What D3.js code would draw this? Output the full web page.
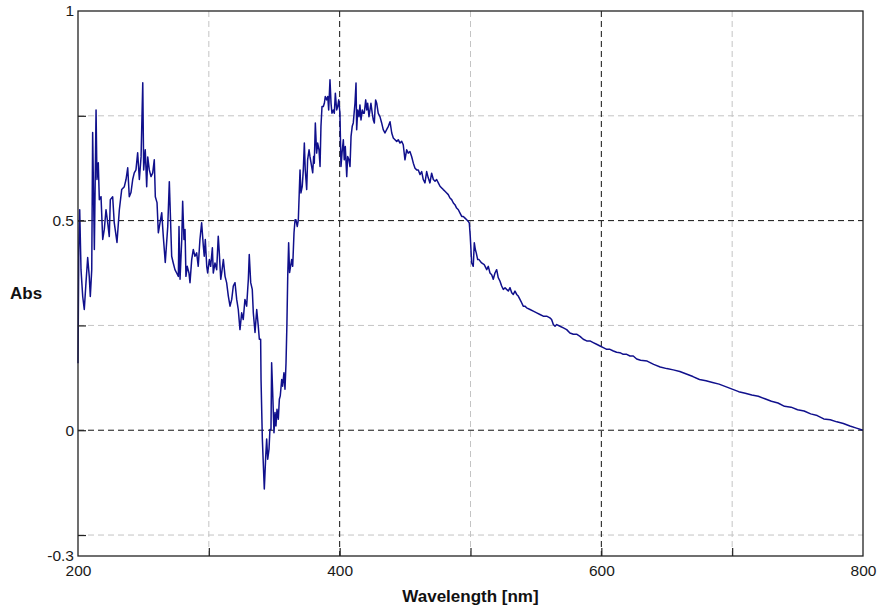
<!DOCTYPE html>
<html>
<head>
<meta charset="utf-8">
<script src="https://cdn.jsdelivr.net/npm/d3@7"></script>
<style>
  html, body { margin: 0; padding: 0; background: #fff; }
  svg { display: block; font-family: "Liberation Sans", Arial, sans-serif; }
</style>
</head>
<body>
<svg id="chart" width="877" height="608"></svg>
<script>
// Absorbance spectrum, wavelength in nm
const wavelength = [
  200.0,200.6,201.3,202.3,203.6,204.8,206.1,207.4,208.6,209.4,210.5,211.2,212.5,213.8,214.5,215.5,216.3,217.6,218.9,220.1,
  221.4,222.7,223.9,224.7,226.5,227.7,229.8,231.6,233.4,235.4,236.7,238.0,239.2,240.5,241.8,243.0,244.3,245.6,246.9,248.2,
  249.5,250.2,251.4,252.5,253.3,254.5,255.8,257.1,258.3,259.1,260.4,261.4,262.7,264.0,265.2,266.7,268.6,269.8,271.6,272.8,
  274.1,275.4,276.7,277.2,278.0,279.3,280.0,281.0,281.8,282.5,283.5,284.8,285.6,286.9,288.1,289.4,290.7,291.9,293.2,294.5,
  295.8,296.5,297.3,298.4,299.1,300.4,301.4,302.7,303.4,304.7,306.0,307.2,308.0,309.1,309.8,311.1,312.4,313.6,314.9,316.2,
  317.5,318.7,320.0,321.3,322.5,323.8,325.1,326.3,327.6,328.9,330.2,330.9,332.0,333.2,334.0,335.3,336.6,337.8,338.6,339.6,
  339.9,340.9,341.7,342.4,343.5,344.2,345.0,346.0,346.7,347.5,348.0,348.8,349.8,350.6,351.3,352.1,353.1,353.9,354.6,355.7,
  356.4,357.4,358.2,359.0,359.7,360.3,361.0,361.7,363.3,364.1,365.1,365.9,366.6,367.6,368.4,369.1,369.7,370.4,371.4,372.2,
  373.0,373.7,374.8,375.5,376.6,377.3,378.6,379.4,380.1,380.6,381.4,382.4,383.2,384.2,385.0,385.7,386.5,387.5,388.3,389.0,
  390.1,390.9,391.6,392.6,393.4,394.1,395.1,395.9,396.7,397.7,398.5,399.3,400.2,401.0,401.8,402.8,403.5,404.3,405.4,406.1,
  407.1,407.9,408.7,409.6,410.4,411.7,412.5,413.0,413.8,414.8,415.5,416.3,417.3,418.1,418.8,419.9,420.7,421.4,422.4,423.2,
  423.9,424.9,425.7,426.5,427.0,427.5,428.3,429.5,430.8,432.1,433.3,434.6,435.9,437.2,438.5,439.8,441.0,442.3,443.6,444.8,
  446.1,447.4,448.6,449.9,451.2,452.4,453.7,455.0,456.3,457.6,458.9,460.1,461.4,462.7,463.9,465.2,466.5,467.7,469.0,470.3,
  471.6,472.9,474.1,475.4,476.7,478.0,479.2,480.5,481.8,483.0,484.3,485.6,486.9,488.1,489.4,490.7,492.0,493.3,494.5,495.8,
  497.1,498.3,499.1,499.8,500.9,502.1,502.9,503.7,504.4,505.5,506.5,508.5,510.5,512.4,513.6,514.9,516.2,517.4,518.7,520.0,
  521.2,522.5,523.8,525.1,526.4,527.6,528.9,530.2,531.5,532.7,534.0,535.3,536.5,537.8,539.1,540.3,541.6,542.9,545.5,548.0,
  550.6,553.1,555.6,558.2,560.7,562.0,563.3,564.6,565.9,568.4,571.0,573.5,576.0,578.6,581.1,583.7,586.2,588.8,591.3,593.8,
  596.4,599.0,601.5,604.1,606.6,609.2,611.7,614.2,616.8,619.4,621.9,624.4,627.0,630,635,640,645,650,655,660,
  665,670,675,680,685,690,695,700,705,710,715,720,725,730,735,740,745,750,755,760,
  765,770,775,780,785,790,795,800
];
const absorbance = [
  0.160,0.430,0.526,0.383,0.319,0.288,0.352,0.412,0.367,0.319,0.383,0.710,0.431,0.764,0.598,0.638,0.550,0.557,0.455,0.479,
  0.526,0.495,0.462,0.550,0.557,0.495,0.448,0.526,0.574,0.581,0.598,0.626,0.557,0.567,0.598,0.614,0.621,0.662,0.598,0.652,
  0.829,0.621,0.669,0.581,0.652,0.621,0.605,0.614,0.645,0.557,0.543,0.471,0.495,0.519,0.462,0.400,0.486,0.593,0.415,0.399,
  0.383,0.375,0.367,0.486,0.360,0.455,0.546,0.455,0.479,0.367,0.391,0.375,0.352,0.407,0.431,0.415,0.423,0.391,0.455,0.495,
  0.439,0.415,0.455,0.391,0.375,0.407,0.391,0.435,0.375,0.399,0.383,0.463,0.423,0.360,0.375,0.407,0.367,0.352,0.320,0.296,
  0.312,0.344,0.352,0.312,0.288,0.240,0.280,0.264,0.312,0.296,0.360,0.419,0.352,0.336,0.280,0.233,0.288,0.248,0.217,0.217,
  0.121,-0.021,-0.085,-0.140,-0.061,-0.021,-0.069,-0.045,0.002,0.002,0.161,0.090,-0.006,0.042,0.010,0.050,0.026,0.074,0.082,0.121,
  0.105,0.137,0.098,0.161,0.256,0.367,0.447,0.376,0.407,0.391,0.471,0.502,0.502,0.486,0.502,0.566,0.621,0.566,0.582,0.621,
  0.685,0.621,0.574,0.645,0.669,0.653,0.629,0.614,0.653,0.637,0.733,0.661,0.685,0.669,0.629,0.725,0.772,0.772,0.780,0.796,
  0.788,0.796,0.764,0.836,0.780,0.756,0.764,0.756,0.804,0.764,0.772,0.788,0.756,0.629,0.661,0.693,0.645,0.677,0.605,0.653,
  0.645,0.629,0.701,0.725,0.733,0.780,0.828,0.717,0.764,0.748,0.776,0.740,0.764,0.756,0.756,0.788,0.764,0.780,0.748,0.764,
  0.780,0.756,0.740,0.733,0.764,0.788,0.780,0.756,0.748,0.733,0.717,0.709,0.717,0.725,0.736,0.709,0.697,0.693,0.689,0.693,
  0.685,0.689,0.681,0.645,0.669,0.661,0.665,0.653,0.637,0.625,0.621,0.621,0.610,0.617,0.598,0.590,0.617,0.602,0.590,0.613,
  0.598,0.594,0.598,0.590,0.582,0.578,0.574,0.570,0.566,0.562,0.554,0.550,0.542,0.538,0.530,0.526,0.518,0.510,0.510,0.506,
  0.502,0.498,0.494,0.463,0.399,0.391,0.447,0.431,0.423,0.407,0.407,0.399,0.395,0.383,0.391,0.375,0.371,0.360,0.375,0.383,
  0.364,0.356,0.344,0.336,0.340,0.336,0.332,0.340,0.328,0.324,0.332,0.324,0.320,0.312,0.304,0.296,0.296,0.292,0.288,0.284,
  0.280,0.276,0.272,0.272,0.268,0.264,0.252,0.248,0.252,0.248,0.244,0.240,0.232,0.229,0.229,0.224,0.217,0.213,0.213,0.209,
  0.205,0.201,0.197,0.193,0.193,0.189,0.186,0.185,0.181,0.181,0.177,0.177,0.170,0.167,0.165,0.157,0.151,0.147,0.144,0.140,
  0.134,0.128,0.121,0.118,0.114,0.110,0.104,0.098,0.092,0.088,0.084,0.081,0.075,0.069,0.065,0.057,0.055,0.049,0.046,0.039,
  0.035,0.027,0.025,0.020,0.016,0.010,0.005,0.000
];

// Axis and grid definitions
const xLabelTicks = [200, 400, 600, 800];
const yLabelTicks = [1, 0.5, 0, -0.3];
const xMinorTicks = [300, 400, 500, 600, 700];
const yMinorTicks = [0.75, 0.5, 0.25, 0, -0.25];
const xMajorGrid = [400, 600];
const xMinorGrid = [300, 500, 700];
const yMajorGrid = [0.5, 0];
const yMinorGrid = [0.75, 0.25, -0.25];

const svg = d3.select("#chart");
const plotL = 78, plotR = 863, plotT = 11, plotB = 556;

const x = d3.scaleLinear().domain([200, 800]).range([plotL, plotR]);
const y = d3.scaleLinear().domain([-0.3, 1]).range([plotB, plotT]);

// Plain-hyphen number labels
const plainFormat = d => String(d);

// Grid lines
const grid = svg.append("g");
function vLines(vals, color) {
  grid.append("g").selectAll("line").data(vals).enter().append("line")
    .attr("x1", d => x(d)).attr("x2", d => x(d)).attr("y1", plotT).attr("y2", plotB)
    .attr("stroke", color).attr("stroke-width", 1).attr("stroke-dasharray", "6,4");
}
function hLines(vals, color) {
  grid.append("g").selectAll("line").data(vals).enter().append("line")
    .attr("x1", plotL).attr("x2", plotR).attr("y1", d => y(d)).attr("y2", d => y(d))
    .attr("stroke", color).attr("stroke-width", 1).attr("stroke-dasharray", "6,4");
}
vLines(xMinorGrid, "#c4c4c4");
hLines(yMinorGrid, "#c4c4c4");
vLines(xMajorGrid, "#111");
hLines(yMajorGrid, "#111");

// Spectrum trace
const pts = wavelength.map((w, i) => [w, absorbance[i]]);
svg.append("path")
  .datum(pts)
  .attr("fill", "none")
  .attr("stroke", "#10108c")
  .attr("stroke-width", 1.5)
  .attr("stroke-linejoin", "round")
  .attr("d", d3.line().x(d => x(d[0])).y(d => y(d[1])));

// Inward tick marks
svg.append("g").attr("transform", `translate(${plotL},0)`)
  .call(d3.axisLeft(y).tickValues(yMinorTicks).tickSize(-8).tickFormat(""))
  .call(g => g.select(".domain").remove())
  .call(g => g.selectAll("line").attr("stroke", "#222").attr("stroke-width", 1.2));
svg.append("g").attr("transform", `translate(0,${plotB})`)
  .call(d3.axisBottom(x).tickValues(xMinorTicks).tickSize(-8).tickFormat(""))
  .call(g => g.select(".domain").remove())
  .call(g => g.selectAll("line").attr("stroke", "#222").attr("stroke-width", 1.2));

// Tick labels
svg.append("g").attr("transform", `translate(${plotL},0)`)
  .call(d3.axisLeft(y).tickValues(yLabelTicks).tickSize(0).tickPadding(4).tickFormat(plainFormat))
  .call(g => g.select(".domain").remove())
  .call(g => g.selectAll("text").attr("font-size", 15.5).attr("fill", "#1a1a1a")
    .attr("font-family", "'Liberation Sans', Arial, sans-serif"));
svg.append("g").attr("transform", `translate(0,${plotB})`)
  .call(d3.axisBottom(x).tickValues(xLabelTicks).tickSize(0).tickPadding(9).tickFormat(plainFormat))
  .call(g => g.select(".domain").remove())
  .call(g => g.selectAll("text").attr("font-size", 15.5).attr("fill", "#1a1a1a")
    .attr("font-family", "'Liberation Sans', Arial, sans-serif"));

// Frame
svg.append("rect")
  .attr("x", plotL).attr("y", plotT).attr("width", plotR - plotL).attr("height", plotB - plotT)
  .attr("fill", "none").attr("stroke", "#222").attr("stroke-width", 1.3);

// Axis titles
svg.append("text")
  .attr("x", (plotL + plotR) / 2).attr("y", 602)
  .attr("text-anchor", "middle")
  .attr("font-size", 17).attr("font-weight", "bold").attr("fill", "#111")
  .text("Wavelength [nm]");
svg.append("text")
  .attr("x", 10).attr("y", 299)
  .attr("font-size", 17).attr("font-weight", "bold").attr("fill", "#111")
  .text("Abs");
</script>
</body>
</html>
